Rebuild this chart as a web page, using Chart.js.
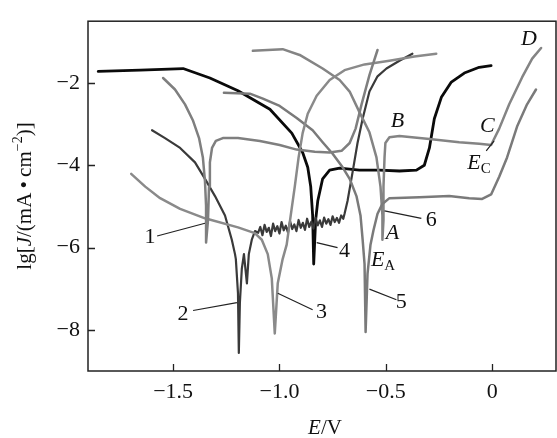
<!DOCTYPE html>
<html>
<head>
<meta charset="utf-8">
<script src="https://cdn.jsdelivr.net/npm/chart.js@4.4.0/dist/chart.umd.min.js"></script>
<style>
  html, body { margin: 0; padding: 0; background: #fff; }
</style>
</head>
<body>
<canvas id="chart" width="557" height="438"></canvas>
<script>
// Axis ticks
const xTicks = [-1.5, -1.0, -0.5, 0];
const xTickLabels = ['\u22121.5', '\u22121.0', '\u22120.5', '0'];
const yTicks = [-8, -6, -4, -2];

// Curve 1 (E in V, lg J)
const c1E = [-1.547, -1.491, -1.444, -1.406, -1.378, -1.360, -1.350, -1.345, -1.345, -1.336, -1.331, -1.327, -1.317, -1.299, -1.266, -1.195, -1.092, -0.999, -0.919, -0.834, -0.764, -0.708, -0.670, -0.642, -0.614, -0.577, -0.539];
const c1Lg = [-1.88, -2.16, -2.52, -2.92, -3.34, -3.81, -4.40, -4.99, -5.88, -5.34, -4.52, -3.93, -3.58, -3.41, -3.34, -3.34, -3.41, -3.51, -3.62, -3.67, -3.69, -3.65, -3.46, -3.11, -2.52, -1.81, -1.20];

// Curve 2 (noisy passive region)
const c2E = [-1.599, -1.538, -1.467, -1.397, -1.350, -1.303, -1.256, -1.224, -1.209, -1.205, -1.195, -1.191, -1.186, -1.177, -1.167, -1.153, -1.144, -1.130, -1.115,
  -1.10, -1.09, -1.08, -1.07, -1.06, -1.05, -1.04, -1.03, -1.02, -1.01, -1.00, -0.99, -0.98, -0.97, -0.96, -0.95, -0.94, -0.93, -0.92, -0.91,
  -0.90, -0.89, -0.88, -0.87, -0.86, -0.85, -0.84, -0.83, -0.82, -0.81, -0.80, -0.79, -0.78, -0.77, -0.76, -0.75, -0.74, -0.73, -0.72, -0.71, -0.70,
  -0.694, -0.680, -0.656, -0.633, -0.609, -0.577, -0.539, -0.497, -0.436, -0.375];
const c2Lg = [-3.15, -3.34, -3.58, -3.93, -4.33, -4.75, -5.22, -5.81, -6.16, -6.28, -7.11, -8.56, -7.34, -6.52, -6.16, -6.87, -6.16, -5.81, -5.60,
  -5.64, -5.50, -5.70, -5.45, -5.62, -5.52, -5.72, -5.42, -5.60, -5.48, -5.66, -5.38, -5.58, -5.47, -5.63, -5.36, -5.55, -5.44, -5.60, -5.33,
  -5.52, -5.40, -5.57, -5.30, -5.50, -5.37, -5.54, -5.28, -5.46, -5.34, -5.50, -5.27, -5.42, -5.31, -5.45, -5.24, -5.38, -5.28, -5.40, -5.22, -5.30,
  -5.18, -4.87, -4.16, -3.46, -2.87, -2.21, -1.84, -1.65, -1.46, -1.29];

// Curve 3
const c3E = [-1.697, -1.631, -1.561, -1.467, -1.350, -1.195, -1.116, -1.083, -1.055, -1.036, -1.022, -1.008, -0.985, -0.966, -0.947, -0.928, -0.910, -0.891, -0.867, -0.825, -0.764, -0.694, -0.600, -0.483, -0.366, -0.263];
const c3Lg = [-4.21, -4.52, -4.80, -5.06, -5.29, -5.51, -5.65, -5.81, -6.16, -6.75, -8.09, -6.87, -6.28, -5.93, -5.22, -4.52, -3.81, -3.22, -2.75, -2.31, -1.93, -1.69, -1.55, -1.46, -1.36, -1.29];

// Curve 4
const c4E = [-1.852, -1.655, -1.453, -1.327, -1.195, -1.045, -0.942, -0.891, -0.867, -0.853, -0.844, -0.839, -0.830, -0.820, -0.797, -0.764, -0.717, -0.624, -0.530, -0.436, -0.356, -0.319, -0.295, -0.272, -0.239, -0.192, -0.131, -0.061, -0.005];
const c4Lg = [-1.72, -1.69, -1.65, -1.88, -2.19, -2.64, -3.22, -3.69, -4.05, -4.52, -5.22, -6.40, -5.34, -4.87, -4.33, -4.12, -4.07, -4.12, -4.12, -4.14, -4.12, -4.00, -3.58, -2.87, -2.35, -1.98, -1.76, -1.62, -1.58];

// Curve 5
const c5E = [-1.261, -1.139, -1.078, -0.999, -0.919, -0.844, -0.797, -0.750, -0.703, -0.670, -0.638, -0.619, -0.609, -0.600, -0.595, -0.586, -0.572, -0.558, -0.539, -0.516, -0.483, -0.342, -0.202, -0.108, -0.047, -0.005, 0.033, 0.070, 0.117, 0.164, 0.206];
const c5Lg = [-2.24, -2.26, -2.38, -2.56, -2.85, -3.15, -3.44, -3.72, -4.05, -4.33, -4.75, -5.22, -5.81, -6.40, -8.05, -6.64, -5.93, -5.58, -5.18, -4.94, -4.80, -4.78, -4.75, -4.80, -4.82, -4.71, -4.28, -3.81, -3.06, -2.52, -2.16];

// Curve 6
const c6E = [-1.125, -0.985, -0.905, -0.797, -0.717, -0.670, -0.624, -0.577, -0.544, -0.525, -0.516, -0.516, -0.511, -0.511, -0.506, -0.502, -0.483, -0.436, -0.295, -0.155, -0.061, -0.005, 0.033, 0.080, 0.141, 0.188, 0.230];
const c6Lg = [-1.22, -1.18, -1.32, -1.65, -1.93, -2.21, -2.71, -3.20, -3.81, -4.52, -5.22, -5.81, -5.34, -4.52, -3.81, -3.46, -3.32, -3.29, -3.36, -3.44, -3.48, -3.51, -3.11, -2.52, -1.86, -1.41, -1.15];

// Curve number labels and their leader lines (data units)
const numLabels = ['1', '2', '3', '4', '5', '6'];
const numE = [-1.608, -1.453, -0.802, -0.694, -0.427, -0.286];
const numLg = [-5.76, -7.62, -7.58, -6.09, -7.34, -5.34];
const leadFromE = [-1.575, -1.406, -0.844, -0.727, -0.450, -0.333];
const leadFromLg = [-5.72, -7.53, -7.51, -6.00, -7.27, -5.29];
const leadToE = [-1.350, -1.200, -1.008, -0.825, -0.577, -0.506];
const leadToLg = [-5.41, -7.34, -7.11, -5.88, -7.01, -5.11];

// Point letters
const letters = ['A', 'B', 'C', 'D'];
const letterE = [-0.469, -0.445, -0.023, 0.173];
const letterLg = [-5.65, -2.94, -3.06, -0.94];

const pts = (E, L) => E.map((e, i) => ({ x: e, y: L[i] }));

const serif = '"Liberation Serif", "Times New Roman", Times, serif';

function drawRich(ctx, parts, cx, cy, rot) {
    let w = 0;
    parts.forEach(p => { ctx.font = p[1]; w += ctx.measureText(p[0]).width; });
    ctx.save();
    ctx.translate(cx, cy);
    ctx.rotate(rot);
    ctx.textAlign = 'left';
    ctx.textBaseline = 'middle';
    let xx = -w / 2;
    parts.forEach(p => {
        ctx.font = p[1];
        ctx.fillText(p[0], xx, p[2]);
        xx += ctx.measureText(p[0]).width;
    });
    ctx.restore();
}

const annotate = {
    id: 'annotate',
    afterDraw(chart) {
        const { ctx, chartArea: a, scales: { x, y } } = chart;
        ctx.save();
        ctx.strokeStyle = '#222';
        ctx.fillStyle = '#111';

        // frame
        ctx.lineWidth = 1.5;
        ctx.strokeRect(a.left, a.top, a.right - a.left, a.bottom - a.top);

        // inward ticks
        ctx.lineWidth = 1.3;
        ctx.beginPath();
        xTicks.forEach(v => {
            const px = Math.round(x.getPixelForValue(v)) + 0.5;
            ctx.moveTo(px, a.bottom);
            ctx.lineTo(px, a.bottom - 7);
        });
        yTicks.forEach(v => {
            const py = Math.round(y.getPixelForValue(v)) + 0.5;
            ctx.moveTo(a.left, py);
            ctx.lineTo(a.left + 7, py);
        });
        ctx.stroke();

        // leader lines
        ctx.lineWidth = 1.2;
        ctx.beginPath();
        for (let i = 0; i < numLabels.length; i++) {
            ctx.moveTo(x.getPixelForValue(leadFromE[i]), y.getPixelForValue(leadFromLg[i]));
            ctx.lineTo(x.getPixelForValue(leadToE[i]), y.getPixelForValue(leadToLg[i]));
        }
        // E_C pointer
        ctx.moveTo(x.getPixelForValue(-0.028), y.getPixelForValue(-3.65));
        ctx.lineTo(x.getPixelForValue(0.009), y.getPixelForValue(-3.41));
        ctx.stroke();

        // numbers
        ctx.textAlign = 'center';
        ctx.textBaseline = 'middle';
        ctx.font = '22px ' + serif;
        numLabels.forEach((t, i) => ctx.fillText(t, x.getPixelForValue(numE[i]), y.getPixelForValue(numLg[i])));

        // letters
        ctx.font = 'italic 22px ' + serif;
        letters.forEach((t, i) => ctx.fillText(t, x.getPixelForValue(letterE[i]), y.getPixelForValue(letterLg[i])));

        // E_A and E_C
        drawRich(ctx, [['E', 'italic 22px ' + serif, 0], ['A', '15px ' + serif, 6]],
            x.getPixelForValue(-0.513), y.getPixelForValue(-6.30), 0);
        drawRich(ctx, [['E', 'italic 22px ' + serif, 0], ['C', '15px ' + serif, 6]],
            x.getPixelForValue(-0.062), y.getPixelForValue(-3.95), 0);

        // axis titles
        drawRich(ctx, [
            ['lg[', '21px ' + serif, 0],
            ['J', 'italic 21px ' + serif, 0],
            ['/(mA\u2009\u2022\u2009cm', '21px ' + serif, 0],
            ['\u22122', '14px ' + serif, -7],
            [')]', '21px ' + serif, 0]
        ], 25, 196, -Math.PI / 2);
        drawRich(ctx, [
            ['E', 'italic 21px ' + serif, 0],
            ['/V', '21px ' + serif, 0]
        ], 325, 428, 0);

        ctx.restore();
    }
};

const grayMid = '#7f7f7f';

new Chart(document.getElementById('chart'), {
    type: 'scatter',
    data: {
        datasets: [
            { label: '1', data: pts(c1E, c1Lg), borderColor: grayMid, borderWidth: 2.5 },
            { label: '3', data: pts(c3E, c3Lg), borderColor: '#8a8a8a', borderWidth: 2.5 },
            { label: '5', data: pts(c5E, c5Lg), borderColor: '#7a7a7a', borderWidth: 2.5 },
            { label: '6', data: pts(c6E, c6Lg), borderColor: '#848484', borderWidth: 2.5 },
            { label: '2', data: pts(c2E, c2Lg), borderColor: '#3a3a3a', borderWidth: 2.2 },
            { label: '4', data: pts(c4E, c4Lg), borderColor: '#0a0a0a', borderWidth: 2.8 }
        ]
    },
    options: {
        responsive: false,
        animation: false,
        devicePixelRatio: 1,
        showLine: true,
        layout: { padding: { top: 9, right: 1, left: 0, bottom: 0 } },
        elements: {
            point: { radius: 0, hoverRadius: 0 },
            line: { tension: 0, borderJoinStyle: 'round', borderCapStyle: 'round', fill: false }
        },
        plugins: {
            legend: { display: false },
            tooltip: { enabled: false }
        },
        scales: {
            x: {
                type: 'linear',
                min: -1.9,
                max: 0.3,
                afterFit: s => { s.height = 67; },
                afterBuildTicks: s => { s.ticks = xTicks.map(v => ({ value: v })); },
                grid: { display: false, drawTicks: false },
                border: { display: false },
                ticks: {
                    callback: (v, i) => xTickLabels[i],
                    font: { family: serif, size: 22 },
                    color: '#111',
                    padding: 8,
                    maxRotation: 0,
                    autoSkip: false
                }
            },
            y: {
                type: 'linear',
                min: -9,
                max: -0.5,
                afterFit: s => { s.width = 88; },
                afterBuildTicks: s => { s.ticks = yTicks.map(v => ({ value: v })); },
                grid: { display: false, drawTicks: false },
                border: { display: false },
                ticks: {
                    callback: v => String(v).replace('-', '\u2212'),
                    font: { family: serif, size: 22 },
                    color: '#111',
                    padding: 8,
                    autoSkip: false
                }
            }
        }
    },
    plugins: [annotate]
});
</script>
</body>
</html>
